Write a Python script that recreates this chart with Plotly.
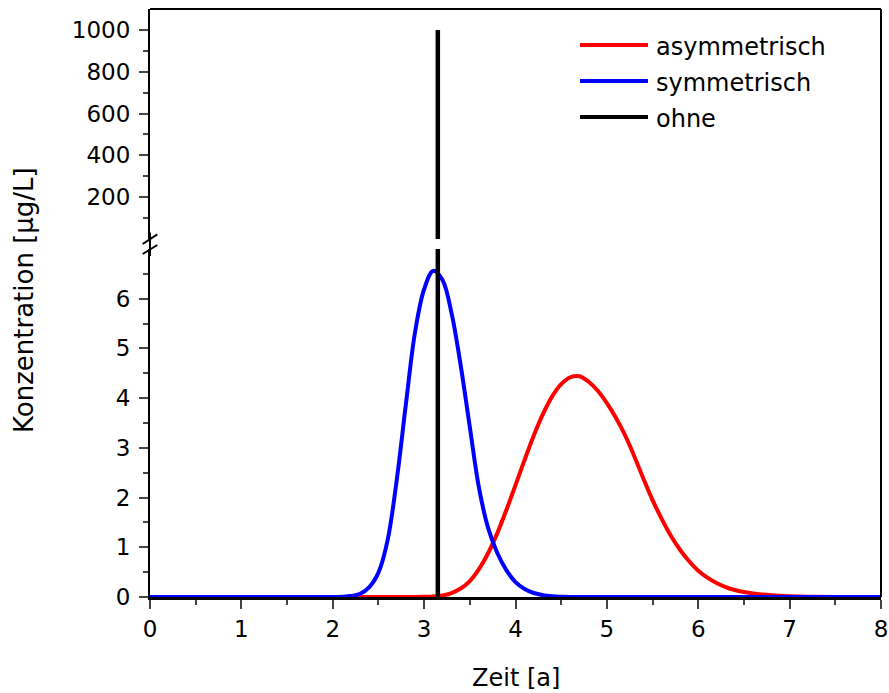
import plotly.graph_objects as go

# ---- data ----
time_sym = [0.0, 1.8, 2.0, 2.1, 2.2, 2.3, 2.4, 2.5, 2.6, 2.7, 2.8, 2.9, 3.0, 3.1,
            3.2, 3.3, 3.4, 3.5, 3.6, 3.7, 3.8, 3.9, 4.0, 4.1, 4.2, 4.3, 4.4, 4.5, 4.6, 4.8, 8.0]
conc_sym = [0.0, 0.0, 0.0, 0.005, 0.02, 0.066, 0.2, 0.49, 1.14, 2.35, 3.87, 5.32, 6.19, 6.56,
            6.38, 5.71, 4.66, 3.42, 2.2, 1.39, 0.89, 0.54, 0.3, 0.16, 0.08, 0.036, 0.015, 0.006, 0.002, 0.0, 0.0]

time_asym = [0.0, 2.9, 3.0, 3.1, 3.2, 3.3, 3.4, 3.5, 3.6, 3.7, 3.8, 3.9, 4.0, 4.1, 4.2, 4.3, 4.4,
             4.5, 4.6, 4.7, 4.8, 4.9, 5.0, 5.1, 5.2, 5.3, 5.4, 5.5, 5.6, 5.7, 5.8,
             5.9, 6.0, 6.1, 6.2, 6.3, 6.4, 6.5, 6.6, 6.7, 6.8, 6.9, 7.0, 7.2, 7.5, 8.0]
conc_asym = [0.0, 0.0, 0.003, 0.01, 0.03, 0.08, 0.17, 0.32, 0.56, 0.88, 1.28, 1.75, 2.25, 2.76, 3.25,
             3.68, 4.03, 4.28, 4.42, 4.44, 4.33, 4.15, 3.9, 3.6, 3.25, 2.83, 2.38, 1.95, 1.57, 1.23,
             0.95, 0.72, 0.53, 0.39, 0.28, 0.2, 0.14, 0.1, 0.07, 0.05, 0.035, 0.024, 0.016, 0.006, 0.0, 0.0]

time_ohne = [3.15, 3.15]
conc_ohne = [0.0, 1000.0]

series_names = ["asymmetrisch", "symmetrisch", "ohne"]
series_colors = ["#ff0000", "#0000ff", "#000000"]

x_ticks = [0, 1, 2, 3, 4, 5, 6, 7, 8]
y_low_ticks = [0, 1, 2, 3, 4, 5, 6]
y_low_minor = [0.5, 1.5, 2.5, 3.5, 4.5, 5.5, 6.5]
y_high_ticks = [200, 400, 600, 800, 1000]
y_high_minor = [100, 300, 500, 700, 900]

FONT = "DejaVu Sans"

fig = go.Figure()
# lower panel
fig.add_trace(go.Scatter(x=time_asym, y=conc_asym, mode="lines", name=series_names[0],
                         line=dict(color=series_colors[0], width=4, shape="spline", smoothing=1),
                         xaxis="x", yaxis="y"))
fig.add_trace(go.Scatter(x=time_sym, y=conc_sym, mode="lines", name=series_names[1],
                         line=dict(color=series_colors[1], width=4, shape="spline", smoothing=1),
                         xaxis="x", yaxis="y"))
fig.add_trace(go.Scatter(x=time_ohne, y=conc_ohne, mode="lines", name=series_names[2],
                         line=dict(color=series_colors[2], width=4.5),
                         xaxis="x", yaxis="y"))
# upper panel
fig.add_trace(go.Scatter(x=time_ohne, y=conc_ohne, mode="lines", name=series_names[2],
                         line=dict(color=series_colors[2], width=4.5), showlegend=False,
                         xaxis="x", yaxis="y2"))

tickfont = dict(family=FONT, size=23, color="black")

fig.update_layout(
    width=889, height=693,
    margin=dict(l=150, r=8, t=9, b=96),
    plot_bgcolor="white", paper_bgcolor="white",
    showlegend=False,
    xaxis=dict(range=[0, 8], tickvals=x_ticks, ticks="outside", ticklen=9, tickwidth=2,
               showline=True, linewidth=3, linecolor="black", showgrid=False, zeroline=False,
               tickfont=tickfont, anchor="y", automargin=False,
               minor=dict(ticks="outside", ticklen=5, tickwidth=2, dtick=0.5, tick0=0,
                          showgrid=False)),
    yaxis=dict(domain=[0, 348 / 588], range=[0, 7], tickvals=y_low_ticks, ticks="outside",
               ticklen=9, tickwidth=2, showline=True, linewidth=2, linecolor="black",
               showgrid=False, zeroline=False, tickfont=tickfont, anchor="x", automargin=False,
               ticklabelstandoff=4,
               minor=dict(ticks="outside", ticklen=5, tickwidth=2, tickvals=y_low_minor,
                          showgrid=False)),
    yaxis2=dict(domain=[358 / 588, 1], range=[0, 1100], tickvals=y_high_ticks, ticks="outside",
                ticklen=9, tickwidth=2, showline=True, linewidth=2, linecolor="black",
                showgrid=False, zeroline=False, tickfont=tickfont, anchor="x", automargin=False,
                ticklabelstandoff=4,
                minor=dict(ticks="outside", ticklen=5, tickwidth=2, tickvals=y_high_minor,
                           showgrid=False)),
)

shapes = [
    # frame top and right
    dict(type="line", xref="paper", yref="paper", x0=0, x1=1, y0=1, y1=1,
         line=dict(color="black", width=2)),
    dict(type="line", xref="paper", yref="paper", x0=1, x1=1, y0=0, y1=1,
         line=dict(color="black", width=2)),
    # left axis through the break
    dict(type="line", xref="paper", yref="paper", x0=0, x1=0, y0=0.58, y1=0.62,
         line=dict(color="black", width=2)),
    # break marks
    dict(type="line", xref="paper", yref="paper", x0=-0.010, x1=0.010, y0=0.6003, y1=0.6168,
         line=dict(color="black", width=2)),
    dict(type="line", xref="paper", yref="paper", x0=-0.010, x1=0.010, y0=0.5833, y1=0.5986,
         line=dict(color="black", width=2)),
]

annotations = [
    dict(text="Zeit [a]", xref="paper", yref="paper", x=0.5, y=(597 - 678) / 588,
         showarrow=False, font=dict(family=FONT, size=24, color="black"),
         xanchor="center", yanchor="middle"),
    dict(text="Konzentration [µg/L]", xref="paper", yref="paper", x=(24 - 150) / 731,
         y=(597 - 300) / 588, textangle=-90, showarrow=False,
         font=dict(family=FONT, size=26, color="black"), xanchor="center", yanchor="middle"),
]

# legend (drawn manually to match long line samples)
legend_y_px = [45, 81, 117]
for name, color, ypx in zip(series_names, series_colors, legend_y_px):
    yp = (597 - ypx) / 588
    shapes.append(dict(type="line", xref="paper", yref="paper",
                       x0=(580 - 150) / 731, x1=(648 - 150) / 731, y0=yp, y1=yp,
                       line=dict(color=color, width=4)))
    annotations.append(dict(text=name, xref="paper", yref="paper", x=(654 - 150) / 731,
                            y=(597 - ypx - 2) / 588,
                            xanchor="left", yanchor="middle", showarrow=False,
                            font=dict(family=FONT, size=24, color="black")))

fig.update_layout(shapes=shapes, annotations=annotations)

fig.write_html("out.html")
